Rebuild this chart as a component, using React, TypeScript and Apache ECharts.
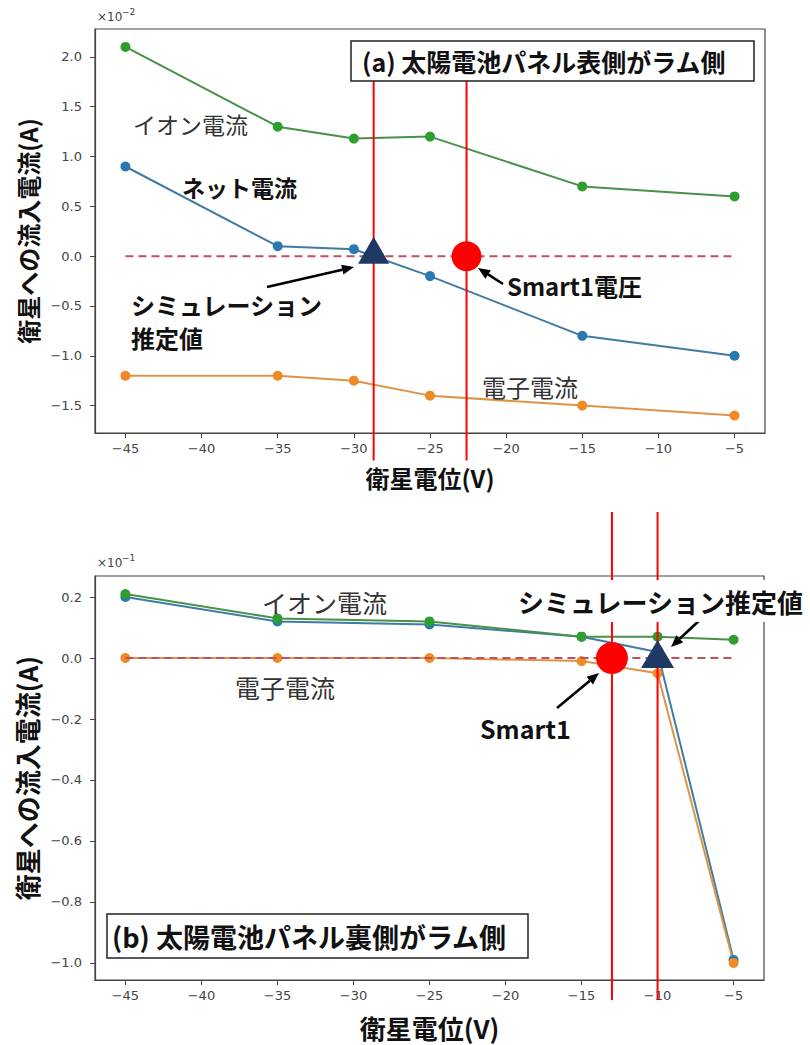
import React, { useEffect, useRef } from "react";
import * as echarts from "echarts";

// ---------- data ----------
// satellite potential (V)
const voltagesA = [-45, -35, -30, -25, -15, -5];
// (a) currents, in units of 1e-2 A
const ionA = [2.1, 1.3, 1.18, 1.2, 0.7, 0.6];
const netA = [0.9, 0.1, 0.07, -0.2, -0.8, -1.0];
const elecA = [-1.2, -1.2, -1.25, -1.4, -1.5, -1.6];
const simVoltA = -28.7;
const smartVoltA = -22.6;

const voltagesB = [-45, -35, -25, -15, -10, -5];
// (b) currents, in units of 1e-1 A
const ionB = [0.21, 0.13, 0.12, 0.07, 0.07, 0.06];
const netB = [0.2, 0.12, 0.11, 0.07, 0.02, -0.99];
const elecB = [0, 0, 0, -0.01, -0.05, -1.0];
const simVoltB = -10;
const smartVoltB = -13;

const zeroLineX = [-45, -5];
const xTicks = [-45, -40, -35, -30, -25, -20, -15, -10, -5];
const yTicksA = [-1.5, -1.0, -0.5, 0, 0.5, 1.0, 1.5, 2.0];
const yTicksB = [-1.0, -0.8, -0.6, -0.4, -0.2, 0, 0.2];

const JP = '"Noto Sans CJK JP", "Noto Sans", sans-serif';
const TICKFONT = '"DejaVu Sans", sans-serif';

const C_BLUE_L = "#3f7ba3";
const C_BLUE_M = "#2a78b2";
const C_ORANGE_L = "#de9446";
const C_ORANGE_M = "#f08a24";
const C_GREEN_L = "#4a904a";
const C_GREEN_M = "#2e9e2e";

function fmtY(v: number) {
  return v.toFixed(1).replace("-", "\u2212");
}
function fmtX(v: number) {
  return String(v).replace("-", "\u2212");
}

function lineSeries(xs: number[], ys: number[], lc: string, mc: string, idx: number, z: number) {
  return {
    type: "line",
    xAxisIndex: idx,
    yAxisIndex: idx,
    data: xs.map((x, i) => [x, ys[i]]),
    symbol: "circle",
    symbolSize: 10,
    lineStyle: { color: lc, width: 2 },
    itemStyle: { color: mc, opacity: 1 },
    z,
  };
}

function vline(x: number, idx: number, yHi: number, yLo: number) {
  return {
    type: "custom",
    xAxisIndex: idx,
    yAxisIndex: idx,
    clip: false,
    z: 6,
    data: [[x]],
    renderItem: (params: any, api: any) => {
      const v = api.value(0);
      const p1 = api.coord([v, yHi]);
      const p2 = api.coord([v, yLo]);
      return {
        type: "line",
        shape: { x1: p1[0], y1: p1[1], x2: p2[0], y2: p2[1] },
        style: { stroke: "#ff0000", lineWidth: 2 },
      };
    },
  };
}

function arrow(x1: number, y1: number, x2: number, y2: number) {
  const dx = x2 - x1;
  const dy = y2 - y1;
  const L = Math.sqrt(dx * dx + dy * dy);
  const ux = dx / L;
  const uy = dy / L;
  const hl = 12;
  const hw = 5;
  const bx = x2 - ux * hl;
  const by = y2 - uy * hl;
  return [
    {
      type: "line",
      z: 60,
      shape: { x1, y1, x2: bx, y2: by },
      style: { stroke: "#000", lineWidth: 2.6 },
    },
    {
      type: "polygon",
      z: 60,
      shape: {
        points: [
          [x2, y2],
          [bx - uy * hw, by + ux * hw],
          [bx + uy * hw, by - ux * hw],
        ],
      },
      style: { fill: "#000" },
    },
  ];
}

function txt(text: string, x: number, y: number, size: number, bold: boolean, extra: any = {}) {
  return {
    type: "text",
    z: 70,
    x,
    y,
    style: {
      text,
      font: `${bold ? "bold" : "normal"} ${size}px ${JP}`,
      fill: bold ? "#111" : "#333",
      verticalAlign: "middle",
      ...extra,
    },
  };
}

export default function App() {
  const ref = useRef<HTMLDivElement>(null);

  useEffect(() => {
    if (!ref.current) return;
    const chart = echarts.init(ref.current, undefined, { renderer: "svg" });

    const xAxisBase = (idx: number, gap: number, size: number) => ({
      type: "value",
      gridIndex: idx,
      min: -47,
      max: -3,
      name: "衛星電位(V)",
      nameLocation: "middle",
      nameGap: gap,
      nameTextStyle: { fontFamily: JP, fontWeight: "bold", fontSize: size, color: "#111" },
      splitLine: { show: false },
      axisLine: { show: true, onZero: false, lineStyle: { color: "#444", width: 1.2 } },
      axisTick: { show: true, length: 5, customValues: xTicks, lineStyle: { color: "#444" } },
      axisLabel: {
        customValues: xTicks,
        formatter: fmtX,
        margin: 9,
        fontFamily: TICKFONT,
        fontSize: 13,
        color: "#444",
      },
    });
    const yAxisBase = (idx: number, min: number, max: number, ticks: number[], gap: number, size: number) => ({
      type: "value",
      gridIndex: idx,
      min,
      max,
      name: "衛星への流入電流(A)",
      nameLocation: "middle",
      nameGap: gap,
      nameTextStyle: { fontFamily: JP, fontWeight: "bold", fontSize: size, color: "#111" },
      splitLine: { show: false },
      axisLine: { show: true, onZero: false, lineStyle: { color: "#444", width: 1.2 } },
      axisTick: { show: true, length: 5, customValues: ticks, lineStyle: { color: "#444" } },
      axisLabel: {
        customValues: ticks,
        formatter: fmtY,
        margin: 13,
        fontFamily: TICKFONT,
        fontSize: 13,
        color: "#444",
      },
    });

    const option: any = {
      animation: false,
      backgroundColor: "#fff",
      grid: [
        { left: 95, top: 29, width: 670, height: 404, show: true, borderColor: "#444", borderWidth: 1.2 },
        { left: 95, top: 576, width: 669, height: 404, show: true, borderColor: "#444", borderWidth: 1.2 },
      ],
      xAxis: [xAxisBase(0, 32, 24), xAxisBase(1, 34, 26)],
      yAxis: [
        yAxisBase(0, -1.775, 2.28, yTicksA, 54, 24),
        yAxisBase(1, -1.056, 0.269, yTicksB, 54, 26),
      ],
      series: [
        // (a)
        lineSeries(voltagesA, netA, C_BLUE_L, C_BLUE_M, 0, 3),
        lineSeries(voltagesA, elecA, C_ORANGE_L, C_ORANGE_M, 0, 3),
        lineSeries(voltagesA, ionA, C_GREEN_L, C_GREEN_M, 0, 3),
        {
          type: "line",
          xAxisIndex: 0,
          yAxisIndex: 0,
          data: zeroLineX.map((x) => [x, 0]),
          showSymbol: false,
          symbol: "none",
          lineStyle: { color: "#c0505e", width: 2, type: [8, 5] },
          z: 5,
        },
        vline(simVoltA, 0, 2.0, -2.05),
        vline(smartVoltA, 0, 2.0, -2.05),
        {
          type: "scatter",
          xAxisIndex: 0,
          yAxisIndex: 0,
          data: [[simVoltA, 0]],
          symbol: "triangle",
          symbolSize: [31, 27],
          symbolOffset: [0, -6],
          itemStyle: { color: "#1f3864", opacity: 1 },
          z: 8,
        },
        {
          type: "scatter",
          xAxisIndex: 0,
          yAxisIndex: 0,
          data: [[smartVoltA, 0]],
          symbol: "circle",
          symbolSize: 30,
          itemStyle: { color: "#ff0000", opacity: 1 },
          z: 8,
        },
        // (b)
        lineSeries(voltagesB, netB, C_BLUE_L, C_BLUE_M, 1, 3),
        lineSeries(voltagesB, elecB, C_ORANGE_L, C_ORANGE_M, 1, 3),
        lineSeries(voltagesB, ionB, C_GREEN_L, C_GREEN_M, 1, 4),
        {
          type: "line",
          xAxisIndex: 1,
          yAxisIndex: 1,
          data: zeroLineX.map((x) => [x, 0]),
          showSymbol: false,
          symbol: "none",
          lineStyle: { color: "#c0505e", width: 2, type: [8, 5] },
          z: 5,
        },
        vline(simVoltB, 1, 0.479, -1.122),
        vline(smartVoltB, 1, 0.479, -1.122),
        {
          type: "scatter",
          xAxisIndex: 1,
          yAxisIndex: 1,
          data: [[simVoltB, 0]],
          symbol: "triangle",
          symbolSize: [33, 28],
          symbolOffset: [0, -4],
          itemStyle: { color: "#1f3864", opacity: 1 },
          z: 8,
        },
        {
          type: "scatter",
          xAxisIndex: 1,
          yAxisIndex: 1,
          data: [[smartVoltB, 0]],
          symbol: "circle",
          symbolSize: 32,
          itemStyle: { color: "#ff0000", opacity: 1 },
          z: 8,
        },
      ],
      graphic: [
        // exponent labels
        { type: "text", z: 70, x: 97, y: 11, style: { text: "×10", font: `12px ${TICKFONT}`, fill: "#444" } },
        { type: "text", z: 70, x: 122, y: 7, style: { text: "\u22122", font: `9px ${TICKFONT}`, fill: "#444" } },
        { type: "text", z: 70, x: 97, y: 557, style: { text: "×10", font: `12px ${TICKFONT}`, fill: "#444" } },
        { type: "text", z: 70, x: 122, y: 553, style: { text: "\u22121", font: `9px ${TICKFONT}`, fill: "#444" } },
        // (a) title box
        {
          type: "rect",
          z: 65,
          shape: { x: 351, y: 41, width: 403, height: 40 },
          style: { fill: "#fff", stroke: "#222", lineWidth: 1.5 },
        },
        txt("(a) 太陽電池パネル表側がラム側", 362, 61, 25, true),
        txt("イオン電流", 133, 124, 23, false),
        txt("ネット電流", 182, 187, 23, true),
        txt("シミュレーション", 131, 304, 24, true),
        txt("推定値", 131, 337, 24, true),
        txt("Smart1電圧", 507, 285, 24, true),
        txt("電子電流", 482, 386, 24, false),
        ...arrow(267, 287, 354, 267),
        ...arrow(503, 284, 478, 268),
        // (b)
        {
          type: "rect",
          z: 65,
          shape: { x: 107, y: 914, width: 421, height: 44 },
          style: { fill: "#fff", stroke: "#222", lineWidth: 1.5 },
        },
        txt("(b) 太陽電池パネル裏側がラム側", 112, 936, 27, true),
        txt("シミュレーション推定値", 514, 601, 26, true, {
          backgroundColor: "#fff",
          padding: [8, 6, 8, 4],
        }),
        txt("イオン電流", 262, 602, 25, false),
        txt("電子電流", 235, 687, 25, false),
        txt("Smart1", 480, 728, 25, true),
        ...arrow(703, 617, 671, 647),
        ...arrow(557, 708, 599, 673),
      ],
    };

    chart.setOption(option);
    return () => chart.dispose();
  }, []);

  return (
    <div
      ref={ref}
      style={{ position: "absolute", left: 0, top: 0, width: 810, height: 1045, background: "#fff" }}
    />
  );
}
